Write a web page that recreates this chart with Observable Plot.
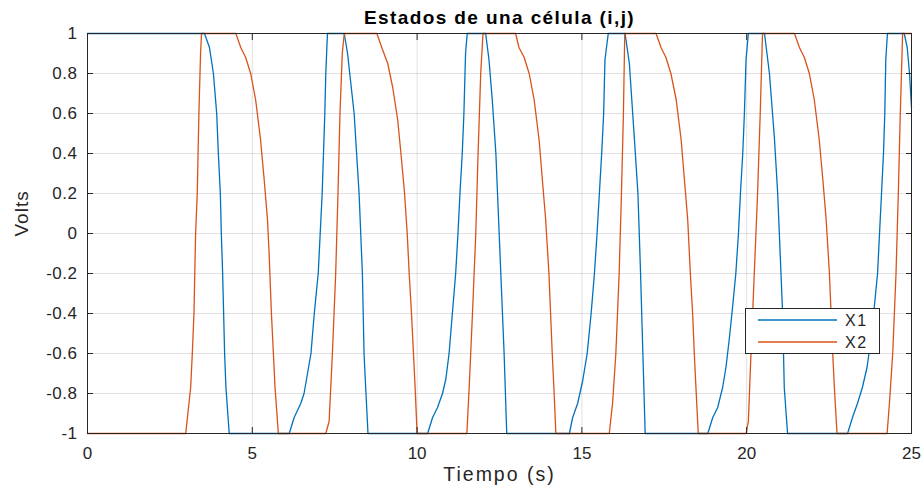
<!DOCTYPE html>
<html>
<head>
<meta charset="utf-8">
<script src="https://cdn.jsdelivr.net/npm/d3@7"></script>
<script src="https://cdn.jsdelivr.net/npm/@observablehq/plot@0.6"></script>
<style>
  html, body { margin: 0; padding: 0; background: #fff; }
  #wrap { position: relative; width: 924px; height: 489px; font-family: 'Liberation Sans', Arial, Helvetica, sans-serif; }
  #wrap svg text { font-family: 'Liberation Sans', Arial, Helvetica, sans-serif; }
  #legend { position: absolute; left: 745px; top: 308px; }
</style>
</head>
<body>
<div id="wrap"></div>
<script>
// ---- data ----
const x1Time = [0,3.55,3.70,3.82,3.92,3.97,4.03,4.06,4.10,4.13,4.16,4.20,4.30,
  6.12,6.27,6.47,6.57,6.78,6.88,7.00,7.06,7.12,7.16,7.20,7.23,7.28,
  7.79,7.89,8.09,8.24,8.34,8.39,8.44,8.51,
  10.32,10.47,10.62,10.77,10.87,10.97,11.07,11.17,11.24,11.30,11.37,11.42,11.47,11.52,
  12.08,12.18,12.28,12.39,12.49,12.59,12.64,12.72,
  14.62,14.72,14.87,15.02,15.16,15.28,15.38,15.46,15.53,15.60,15.66,15.70,15.80,
  16.31,16.44,16.59,16.70,16.78,16.85,16.92,
  18.82,18.97,19.12,19.27,19.37,19.47,19.57,19.67,19.75,19.81,19.88,19.93,19.98,20.05,
  20.54,20.69,20.84,20.94,21.04,21.09,21.14,21.24,
  23.06,23.21,23.36,23.51,23.65,23.77,23.87,23.97,24.03,24.09,24.15,24.19,24.22,24.27,
  24.78,24.87,24.94,25.0];
const x1Volts = [1,1,0.93,0.8,0.6,0.4,0.2,0,-0.2,-0.4,-0.6,-0.77,-1,
  -1,-0.92,-0.85,-0.8,-0.6,-0.4,-0.2,0,0.2,0.4,0.6,0.8,1,
  1,0.9,0.6,0.2,-0.2,-0.6,-0.77,-1,
  -1,-0.92,-0.87,-0.8,-0.73,-0.6,-0.4,-0.2,0,0.2,0.4,0.6,0.9,1,
  1,0.87,0.67,0.4,0,-0.4,-0.6,-1,
  -1,-0.92,-0.85,-0.74,-0.6,-0.4,-0.2,0,0.2,0.4,0.6,0.87,1,
  1,0.85,0.48,0.2,-0.2,-0.6,-1,
  -1,-0.92,-0.87,-0.77,-0.67,-0.53,-0.37,-0.2,0,0.2,0.4,0.6,0.87,1,
  1,0.8,0.48,0.2,-0.2,-0.4,-0.77,-1,
  -1,-0.92,-0.85,-0.77,-0.67,-0.53,-0.37,-0.2,0,0.2,0.4,0.6,0.87,1,
  1,0.93,0.8,0.63];

const x2Time = [0,2.98,3.13,3.18,3.23,3.28,3.33,3.38,3.43,3.46,
  4.50,4.65,4.80,4.95,5.10,5.25,5.36,5.46,5.51,5.58,5.64,5.69,5.79,
  7.23,7.33,7.43,7.53,7.60,7.66,7.73,7.79,
  8.78,8.95,9.11,9.26,9.41,9.51,9.62,9.70,9.76,9.83,9.89,9.94,10.00,
  11.51,11.58,11.68,11.78,11.85,11.93,12.00,
  12.99,13.09,13.25,13.40,13.55,13.70,13.80,13.90,14.00,14.05,14.10,14.15,14.21,
  15.83,15.93,16.03,16.13,16.20,16.26,16.30,
  17.25,17.40,17.55,17.70,17.86,18.01,18.11,18.21,18.29,18.36,18.41,18.46,18.53,
  19.98,20.05,20.13,20.23,20.33,20.41,20.48,
  21.45,21.60,21.75,21.90,22.05,22.20,22.31,22.41,22.51,22.56,22.61,22.66,22.74,
  24.26,24.33,24.43,24.53,24.60,24.66,24.73,25.0];
const x2Volts = [-1,-1,-0.77,-0.6,-0.4,0,0.2,0.6,0.9,1,
  1,0.93,0.88,0.8,0.67,0.47,0.27,0.07,-0.1,-0.4,-0.6,-0.77,-1,
  -1,-0.94,-0.6,-0.2,0.2,0.6,0.9,1,
  1,0.92,0.85,0.73,0.57,0.4,0.2,0,-0.2,-0.4,-0.6,-0.77,-1,
  -1,-0.77,-0.4,0,0.4,0.8,1,
  1,0.93,0.88,0.8,0.67,0.47,0.27,0.07,-0.2,-0.4,-0.6,-0.77,-1,
  -1,-0.85,-0.6,-0.2,0.2,0.6,1,
  1,0.93,0.88,0.8,0.67,0.47,0.27,0.07,-0.2,-0.4,-0.6,-0.77,-1,
  -1,-0.94,-0.6,-0.2,0.2,0.6,1,
  1,0.93,0.88,0.8,0.67,0.47,0.27,0.07,-0.2,-0.4,-0.6,-0.77,-1,
  -1,-0.85,-0.6,-0.2,0.2,0.6,1,1];

const seriesNames = ["X1", "X2"];
const seriesColors = ["#0072BD", "#D95319"];
const xTicks = [0, 5, 10, 15, 20, 25];
const yTicks = [-1, -0.8, -0.6, -0.4, -0.2, 0, 0.2, 0.4, 0.6, 0.8, 1];
const titleText = "Estados de una célula (i,j)";
const xLabelText = "Tiempo (s)";
const yLabelText = "Volts";

// ---- build table ----
const rows = [
  ...x1Time.map((t, i) => ({t, v: x1Volts[i], s: seriesNames[0]})),
  ...x2Time.map((t, i) => ({t, v: x2Volts[i], s: seriesNames[1]}))
];

const ink = "#262626";
const fmt = d => String(d);

const chart = Plot.plot({
  width: 924,
  height: 489,
  marginLeft: 87,
  marginRight: 13,
  marginTop: 33,
  marginBottom: 56,
  style: {background: "#fff", color: ink, fontSize: "16px", fontFamily: "'Liberation Sans', Arial, Helvetica, sans-serif"},
  x: {domain: [0, 25]},
  y: {domain: [-1, 1]},
  color: {domain: seriesNames, range: seriesColors},
  marks: [
    Plot.gridX(xTicks, {stroke: "#000", strokeOpacity: 0.12}),
    Plot.gridY(yTicks, {stroke: "#000", strokeOpacity: 0.12}),
    Plot.axisX(xTicks, {anchor: "bottom", tickSize: 0, tickPadding: 13, tickFormat: fmt, label: null, fontSize: 17}),
    Plot.axisY(yTicks, {anchor: "left", tickSize: 0, tickPadding: 10, tickFormat: fmt, label: null, fontSize: 17}),
    Plot.line(rows, {x: "t", y: "v", z: "s", stroke: "s", strokeWidth: 1.3}),
    Plot.frame({stroke: ink, strokeWidth: 1}),
    Plot.axisX(xTicks, {anchor: "bottom", tickSize: -6, fill: "none", label: null, stroke: ink}),
    Plot.axisX(xTicks, {anchor: "top", tickSize: -6, fill: "none", label: null, stroke: ink}),
    Plot.axisY(yTicks, {anchor: "left", tickSize: -6, fill: "none", label: null, stroke: ink}),
    Plot.axisY(yTicks, {anchor: "right", tickSize: -6, fill: "none", label: null, stroke: ink}),
    Plot.text([titleText], {text: d => d, frameAnchor: "top", lineAnchor: "middle", dy: -16, fontWeight: "bold", fontSize: 19, fill: "#000"}),
    Plot.text([xLabelText], {text: d => d, frameAnchor: "bottom", lineAnchor: "middle", dy: 41, fontSize: 19.5, fill: ink}),
    Plot.text([yLabelText], {text: d => d, frameAnchor: "left", lineAnchor: "middle", dx: -66, dy: 3, rotate: -90, fontSize: 19, fill: ink})
  ]
});

const wrap = document.getElementById("wrap");
wrap.appendChild(chart);

// letter spacing to mimic the reference's loose text rendering
const sel = d3.select(chart).selectAll("text");
sel.filter(function() { return this.textContent === titleText; }).style("letter-spacing", "1.4px");
sel.filter(function() { return this.textContent === xLabelText; }).style("letter-spacing", "2px");
sel.filter(function() { return this.textContent === yLabelText; }).style("letter-spacing", "1px");
d3.select(chart).selectAll('g[aria-label="y-axis tick label"] text').style("letter-spacing", "0.5px");

// ---- legend (box inside the axes, lower right) ----
const legW = 135, legH = 46;
const legend = d3.select(wrap).append("svg")
  .attr("id", "legend")
  .attr("width", legW).attr("height", legH);
legend.append("rect")
  .attr("x", 0.5).attr("y", 0.5).attr("width", legW - 1).attr("height", legH - 1)
  .attr("fill", "#fff").attr("stroke", ink).attr("stroke-width", 1);
const item = legend.selectAll("g.item").data(seriesNames).join("g")
  .attr("class", "item")
  .attr("transform", (d, i) => `translate(0,${12 + i * 22})`);
item.append("line")
  .attr("x1", 13).attr("x2", 92).attr("y1", 0).attr("y2", 0)
  .attr("stroke", (d, i) => seriesColors[i]).attr("stroke-width", 1.3);
item.append("text")
  .attr("x", 100).attr("y", 0).attr("dy", "0.35em")
  .attr("fill", ink)
  .style("font-family", "'Liberation Sans', Arial, Helvetica, sans-serif")
  .style("font-size", "16px")
  .style("letter-spacing", "1.5px")
  .text(d => d);
</script>
</body>
</html>
